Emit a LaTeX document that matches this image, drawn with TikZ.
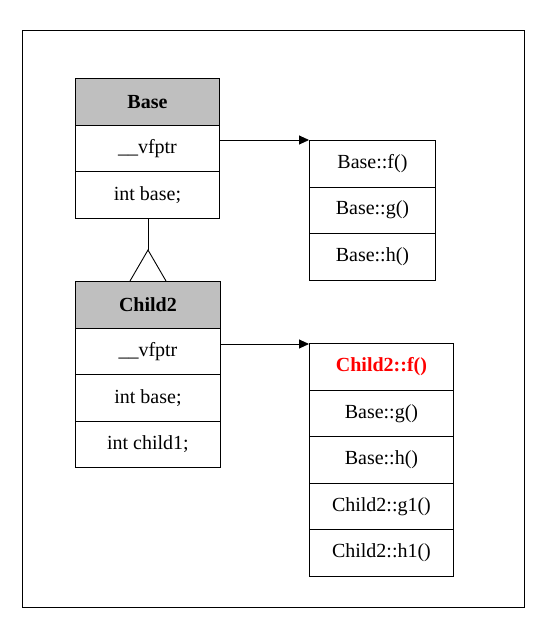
\documentclass[tikz,border=0pt]{standalone}
\usepackage{fontspec}
\setmainfont{Liberation Serif}
\usetikzlibrary{arrows.meta}
\begin{document}
\begin{tikzpicture}[x=1pt,y=-1pt,
  cell/.style={draw=black,line width=0.9pt,minimum width=#1,anchor=north west,inner sep=0pt,minimum height=46.5,font=\fontsize{20}{22}\selectfont},
  hdr/.style={fill=black!25,font=\fontsize{20}{22}\selectfont\bfseries},
  link/.style={line width=0.9pt,-{Triangle[length=10pt,width=9pt]}},
  ln/.style={line width=0.9pt}]
\useasboundingbox (0,0) rectangle (545,627);
\draw[ln] (22,30) rectangle (524,607);
% Base
\node[cell=144,hdr] (b0) at (75,78) {Base};
\node[cell=144] (b1) at (75,124.5) {\_\_vfptr};
\node[cell=144] (b2) at (75,171) {int base;};
% Child2
\node[cell=145,hdr] (c0) at (75,281) {Child2};
\node[cell=145] (c1) at (75,327.5) {\_\_vfptr};
\node[cell=145] (c2) at (75,374) {int base;};
\node[cell=145] (c3) at (75,420.5) {int child1;};
% vtable 1
\node[cell=126] (v1) at (309,140) {Base::f()};
\node[cell=126] (v2) at (309,186.5) {Base::g()};
\node[cell=126] (v3) at (309,233) {Base::h()};
% vtable 2
\node[cell=144,text=red,font=\fontsize{20}{22}\selectfont\bfseries] (w1) at (309,343) {Child2::f()};
\node[cell=144] (w2) at (309,389.6) {Base::g()};
\node[cell=144] (w3) at (309,436.2) {Base::h()};
\node[cell=144] (w4) at (309,482.8) {Child2::g1()};
\node[cell=144] (w5) at (309,529.4) {Child2::h1()};
% inheritance
\coordinate (apex) at (148,250);
\draw[ln] (b2.south -| apex) -- (apex);
\draw[ln] (130,281) -- (apex) -- (166,281);
% pointers
\draw[link] (b1.east |- 0,140) -- (v1.north west);
\draw[link] (c1.east |- 0,344) -- (w1.north west |- 0,344);
\end{tikzpicture}
\end{document}
